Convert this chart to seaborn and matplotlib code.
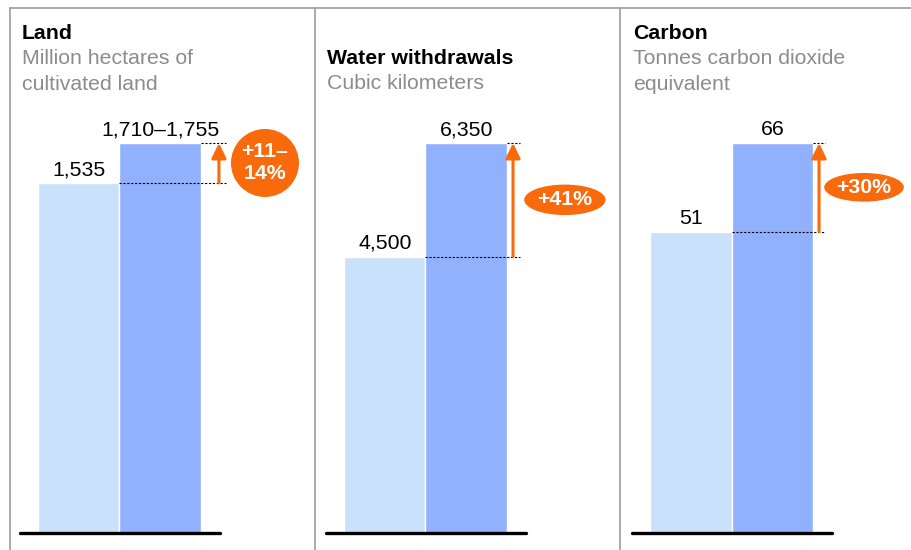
import pandas as pd
import seaborn as sns
import matplotlib.pyplot as plt
from matplotlib.lines import Line2D

# chart data
periods = ["2010", "2050"]
titles = ["Land", "Water withdrawals", "Carbon"]
subtitles = ["Million hectares of\ncultivated land", "Cubic kilometers",
             "Tonnes carbon dioxide\nequivalent"]
land = [1535, 1710]
water = [4500, 6350]
carbon = [51, 66]
land_labels = ["1,535", "1,710–1,755"]
water_labels = ["4,500", "6,350"]
carbon_labels = ["51", "66"]
changes = ["+11–\n14%", "+41%", "+30%"]

values = [land, water, carbon]
labels = [land_labels, water_labels, carbon_labels]

light = "#C9E1FA"
dark = "#92B1FD"
orange = "#F86A0B"
grey = "#8C8C8C"
frame = "#9C9C9C"
W, H = 912, 550

sns.set_style("white")
plt.rcParams["font.family"] = ["Liberation Sans", "DejaVu Sans"]

fig = plt.figure(figsize=(W / 100, H / 100), dpi=100)

# layout in pixels
panel_left = [20, 326, 632]
text_x = [22, 327, 633]
title_y = [39, 64, 39]
arrow_x = [1.72, 1.574, 1.574]
dash_end = [1.806, 1.66, 1.65]
badge_x = [2.285, 2.21, 2.126]
badge_style = ["circle,pad=0.5", "ellipse,pad=0.06", "ellipse,pad=0.03"]
bar_px = 81.5
base_y = 533
top_y = 143

# frame lines
fig.add_artist(Line2D([10 / W, 1], [1 - 8 / H] * 2, color=frame, lw=1.2))
for xp in [10, 315, 620]:
    fig.add_artist(Line2D([xp / W] * 2, [0, 1 - 8 / H], color=frame, lw=1.2))

x0 = -0.5 - 18 / bar_px
for i in range(3):
    vals = values[i]
    ax = fig.add_axes([panel_left[i] / W, (H - base_y) / H, 200 / W, (base_y - top_y) / H])
    df = pd.DataFrame({"period": periods, "value": vals})
    sns.barplot(data=df, x="period", y="value", hue="period", palette=[light, dark],
                saturation=1, width=1, edgecolor="white", linewidth=1, legend=False, ax=ax)
    ax.set_xlim(x0, x0 + 200 / bar_px)
    ax.set_ylim(0, vals[1])
    ax.axis("off")
    ax.axhline(0, color="black", lw=2.4, clip_on=False)

    for j in range(2):
        ax.annotate(labels[i][j], (j, vals[j]), xytext=(0, 5.5), textcoords="offset points",
                    ha="center", va="baseline", fontsize=15.3, color="black")

    ax.plot([1.5, dash_end[i]], [vals[1]] * 2, ls=(0, (2, 1.5)), lw=0.8, color="black", clip_on=False)
    ax.plot([0.5, dash_end[i]], [vals[0]] * 2, ls=(0, (2, 1.5)), lw=0.8, color="black", clip_on=False)
    ax.annotate("", xy=(arrow_x[i], vals[1]), xytext=(arrow_x[i], vals[0]),
                arrowprops=dict(arrowstyle="-|>,head_length=0.45,head_width=0.22", color=orange,
                                lw=2.2, shrinkA=0, shrinkB=0, mutation_scale=20),
                annotation_clip=False)
    ax.text(badge_x[i], (vals[0] + vals[1]) / 2, changes[i], ha="center", va="center",
            color="white", fontweight="bold", fontsize=15.3, linespacing=1.2,
            bbox=dict(boxstyle=badge_style[i], fc=orange, ec="none"), clip_on=False)

    fig.text(text_x[i] / W, 1 - title_y[i] / H, titles[i], fontsize=15.3, fontweight="bold",
             ha="left", va="baseline", color="black")
    for k, line in enumerate(subtitles[i].split("\n")):
        fig.text(text_x[i] / W, 1 - (title_y[i] + 25 + 26 * k) / H, line, fontsize=15.3,
                 ha="left", va="baseline", color=grey)

fig.savefig("out.png", dpi=100)
